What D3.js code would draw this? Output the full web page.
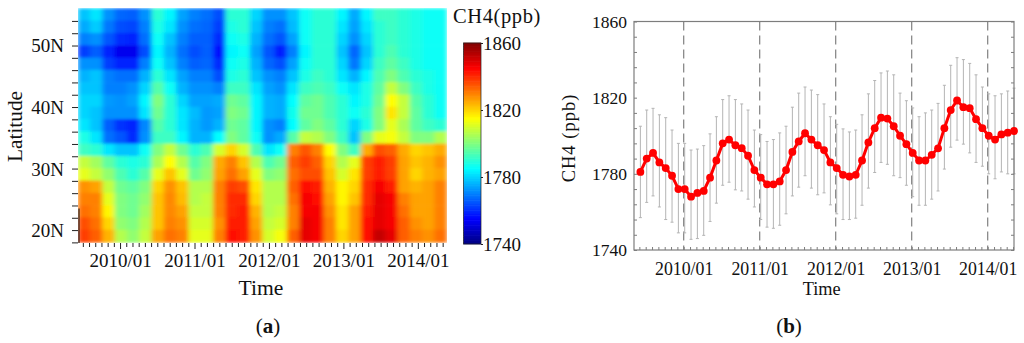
<!DOCTYPE html>
<html><head><meta charset="utf-8">
<script src="https://cdn.jsdelivr.net/npm/d3@7/dist/d3.min.js"></script>
<style>
html,body{margin:0;padding:0;background:#fff}
svg{display:block}
text{font-family:"Liberation Serif",serif;fill:#111}
.axis text{font-family:"Liberation Serif",serif;fill:#111}
</style></head><body>
<svg id="c" width="1024" height="343"></svg>
<script>
const latitudes=[55,53,51,49,47,45,43,41,39,37,35,33,31,29,27,25,23,21,19];
const heat55=[1778,1782,1772,1767,1766,1772,1790,1784,1774,1770,1768,1764,1790,1790,1780,1772,1772,1778,1786,1790,1790,1784,1775,1784,1792,1792,1790,1788,1786,1786];
const heat53=[1775,1779,1769,1764,1763,1770,1788,1782,1772,1768,1767,1762,1788,1790,1778,1770,1768,1777,1786,1790,1790,1782,1774,1782,1790,1792,1790,1788,1786,1786];
const heat51=[1770,1772,1765,1760,1759,1768,1786,1778,1770,1766,1766,1760,1786,1788,1776,1768,1765,1774,1786,1790,1790,1780,1772,1780,1790,1792,1790,1788,1786,1786];
const heat49=[1762,1766,1759,1753,1753,1764,1784,1776,1768,1764,1766,1756,1784,1786,1774,1765,1758,1770,1784,1790,1790,1778,1767,1778,1790,1794,1790,1788,1786,1786];
const heat47=[1772,1772,1762,1759,1759,1770,1786,1778,1770,1766,1767,1760,1786,1788,1776,1767,1764,1774,1786,1790,1790,1780,1769,1780,1792,1796,1792,1788,1786,1786];
const heat45=[1776,1778,1770,1768,1768,1776,1790,1782,1774,1770,1770,1764,1788,1790,1778,1772,1770,1778,1788,1792,1790,1782,1776,1784,1794,1800,1794,1790,1788,1786];
const heat43=[1778,1778,1770,1770,1772,1780,1795,1786,1776,1772,1772,1770,1792,1792,1782,1774,1772,1782,1792,1794,1792,1786,1782,1788,1796,1808,1800,1792,1788,1786];
const heat41=[1780,1780,1773,1772,1774,1784,1800,1790,1780,1774,1774,1775,1798,1796,1784,1776,1775,1785,1796,1798,1794,1790,1784,1788,1798,1815,1808,1795,1790,1786];
const heat39=[1780,1778,1772,1772,1772,1782,1798,1790,1782,1777,1773,1774,1800,1798,1784,1776,1775,1787,1798,1798,1794,1790,1786,1790,1800,1818,1808,1796,1790,1786];
const heat37=[1782,1778,1766,1761,1759,1771,1795,1790,1782,1776,1773,1776,1798,1796,1784,1772,1770,1785,1796,1800,1796,1790,1780,1788,1800,1812,1805,1796,1792,1790];
const heat35=[1788,1782,1768,1765,1760,1772,1792,1792,1784,1776,1776,1785,1800,1796,1786,1772,1775,1795,1808,1806,1800,1792,1778,1800,1812,1814,1808,1800,1800,1806];
const heat33=[1792,1790,1782,1778,1778,1786,1800,1808,1798,1790,1794,1810,1820,1810,1794,1782,1786,1830,1835,1830,1815,1800,1792,1825,1836,1834,1825,1820,1822,1825];
const heat31=[1808,1804,1796,1790,1788,1790,1805,1815,1806,1795,1800,1825,1830,1822,1806,1794,1798,1834,1838,1834,1820,1806,1812,1838,1842,1838,1826,1822,1824,1828];
const heat29=[1812,1808,1802,1794,1790,1795,1812,1822,1812,1798,1802,1826,1832,1826,1812,1800,1802,1832,1836,1836,1822,1810,1818,1838,1842,1838,1826,1820,1824,1826];
const heat27=[1828,1826,1808,1798,1796,1800,1820,1828,1822,1806,1806,1830,1838,1836,1818,1806,1806,1834,1844,1842,1824,1816,1820,1840,1846,1842,1826,1824,1826,1830];
const heat25=[1830,1830,1812,1800,1798,1802,1822,1829,1823,1806,1808,1830,1840,1840,1820,1806,1806,1832,1846,1844,1826,1816,1822,1840,1848,1846,1830,1826,1826,1830];
const heat23=[1832,1830,1816,1800,1798,1804,1822,1829,1826,1808,1808,1830,1840,1842,1824,1806,1808,1830,1846,1846,1828,1818,1826,1842,1848,1846,1832,1826,1826,1830];
const heat21=[1836,1832,1820,1802,1800,1806,1822,1830,1828,1810,1810,1828,1842,1842,1826,1808,1810,1830,1848,1846,1830,1818,1826,1844,1848,1846,1834,1828,1826,1830];
const heat19=[1838,1834,1824,1806,1802,1808,1826,1832,1830,1812,1812,1830,1844,1842,1828,1810,1814,1834,1848,1846,1830,1820,1826,1844,1852,1848,1834,1830,1828,1832];
const heatRows=[heat55,heat53,heat51,heat49,heat47,heat45,heat43,heat41,heat39,heat37,heat35,heat33,heat31,heat29,heat27,heat25,heat23,heat21,heat19];

const ch4Mean=[1781,1788,1791,1786,1783,1779,1772,1772,1768,1770,1771,1778,1787,1796,1798,1795,1793.5,1789.5,1782,1778,1774.5,1774.5,1776,1782,1791.5,1797,1801.3,1798,1795,1792.5,1786,1783,1779.5,1778.6,1779.5,1787,1796.5,1804,1809.5,1809,1805,1800,1795.6,1791,1787,1787,1790,1793.4,1804,1813.5,1818.5,1815,1814.5,1808.7,1804,1800,1798,1800.7,1801.6,1802.5];
const ch4Upper=[1805,1813.5,1814.4,1811,1809.5,1803,1796,1796,1792.5,1793,1794.8,1801,1810,1819,1821,1819,1816.7,1813.5,1803,1800.6,1797,1798,1801.5,1805,1815,1822.4,1825.6,1824,1821.6,1816.7,1810,1806,1803.6,1802,1803,1811,1822,1829,1833,1834,1832,1822.4,1818.4,1814.6,1810,1812,1813.5,1817,1826.5,1837,1841,1840,1838,1832,1825.6,1822,1821,1822,1823.5,1825];
const ch4Lower=[1757,1765,1768.4,1762.6,1756,1754.6,1749,1749,1745.6,1746,1747.7,1755,1764.6,1774,1775.6,1771.6,1771,1766.7,1762.6,1756,1752,1751.4,1753,1759,1768.4,1773,1779,1772.5,1769,1770,1763.7,1759,1756,1756,1756.7,1763.5,1772.5,1780.7,1786,1785,1779,1778,1774,1768,1763.5,1763.5,1766.7,1771,1782.5,1794,1797.7,1795.6,1791,1786,1784,1780,1777.4,1781,1780,1780];

const yearMonths=[7,19,31,43,55];
const yearLabels=["2010/01","2011/01","2012/01","2013/01","2014/01"];
const latTicks=[20,30,40,50];
const barTicks=[1740,1780,1820,1860];
const lineTicks=[1740,1780,1820,1860];
const jetStops=["#000080","#0000ff","#00ffff","#ffff00","#ff0000","#800000"];
const jetDomain=[1740,1755,1785,1815,1845,1860];

const svg=d3.select("#c");
const jet=d3.scaleLinear().domain(jetDomain).range(jetStops).clamp(true);
const defs=svg.append("defs");
const f=defs.append("filter").attr("id","soft").attr("x","0").attr("y","0").attr("width","1").attr("height","1").attr("filterUnits","objectBoundingBox");
f.append("feGaussianBlur").attr("stdDeviation","2.6 1.5").attr("edgeMode","duplicate");
defs.append("clipPath").attr("id","hclip").append("rect").attr("x",78).attr("y",8).attr("width",369).attr("height",235);

/* ---------- panel a ---------- */
const ax=d3.scaleLinear().domain([0.22,59.7]).range([78,447]);
const ay=d3.scaleLinear().domain([17.9,56.1]).range([243,8]);
const colCount=heat55.length;
const heatG=svg.append("g").attr("clip-path","url(#hclip)").append("g").attr("filter","url(#soft)");
heatRows.forEach((row,r)=>{
  heatG.selectAll(null).data(row).enter().append("rect")
    .attr("x",(d,c)=>ax(0.22+c*(59.48/colCount))-0.3)
    .attr("width",ax(59.48/colCount)-ax(0)+0.6)
    .attr("y",ay(latitudes[r]+1)-0.3)
    .attr("height",ay(0)-ay(2)+0.6)
    .attr("fill",d=>jet(d));
});
const allMonths=d3.range(1,60);
const axB=svg.append("g").attr("class","axis").attr("transform","translate(0,243)")
  .call(d3.axisBottom(ax).tickValues(allMonths).tickSize(4).tickSizeOuter(0)
    .tickFormat(m=>{const k=yearMonths.indexOf(m);return k>=0?yearLabels[k]:"";}));
axB.select(".domain").remove();
axB.selectAll("line").attr("stroke","#222").attr("y2",m=>yearMonths.includes(m)?6:4);
axB.selectAll("text").attr("y",11).attr("font-size",19);
const axL=svg.append("g").attr("class","axis").attr("transform","translate(78,0)")
  .call(d3.axisLeft(ay).tickValues(d3.range(18,56,2)).tickSize(6).tickSizeOuter(0)
    .tickFormat(v=>latTicks.includes(v)?v+"N":""));
axL.select(".domain").remove();
axL.selectAll("line").attr("stroke","#222");
axL.selectAll("text").attr("x",-14).attr("font-size",19).attr("dy","0.34em");
svg.append("line").attr("x1",79).attr("x2",79).attr("y1",ay(23.5)).attr("y2",ay(17.9)).attr("stroke","#222").attr("stroke-width",1.2);
svg.append("text").attr("transform","translate(22,126.5) rotate(-90)").attr("text-anchor","middle").attr("font-size",21.3).text("Latitude");
svg.append("text").attr("x",261).attr("y",295).attr("text-anchor","middle").attr("font-size",21.6).text("Time");

/* colour bar */
const barY=d3.scaleLinear().domain([1740,1860]).range([244,43]);
const barVals=d3.range(1740,1860,1);
svg.append("g").selectAll("rect").data(barVals).enter().append("rect")
  .attr("x",463.5).attr("width",17.5).attr("y",d=>barY(d+1)-0.3).attr("height",barY(0)-barY(1)+0.6).attr("fill",d=>jet(d+0.5));
svg.append("rect").attr("x",463.5).attr("y",43).attr("width",17.5).attr("height",201).attr("fill","none").attr("stroke","#222").attr("stroke-width",0.7);
const barAxis=svg.append("g").attr("class","axis").attr("transform","translate(481,0)")
  .call(d3.axisRight(barY).tickValues(barTicks).tickSize(2).tickSizeOuter(0).tickFormat(d3.format("d")));
barAxis.select(".domain").remove();
barAxis.selectAll("line").attr("stroke","#222");
barAxis.selectAll("text").attr("x",2).attr("font-size",19).attr("dy","0.34em");
svg.append("text").attr("x",453).attr("y",23).attr("font-size",20.5).attr("letter-spacing",0.6).text("CH4(ppb)");
svg.append("text").attr("x",268).attr("y",333).attr("text-anchor","middle").attr("font-size",21).html('(<tspan font-weight="bold">a</tspan>)');

/* ---------- panel b ---------- */
const L=634,R=1014,T=21.5,B=250;
const bx=d3.scaleLinear().domain([7,55]).range([683.7,987.7]);
const by=d3.scaleLinear().domain([1740,1860]).range([B,T]);
const ptX=i=>bx(i+0.16);
const gr="#7d7d7d";
svg.append("g").selectAll("line").data(yearMonths).enter().append("line")
  .attr("x1",bx).attr("x2",bx).attr("y1",T).attr("y2",B)
  .attr("stroke","#808080").attr("stroke-width",1.2).attr("stroke-dasharray","9,5");
const eb=svg.append("g").attr("stroke","#b4b4b4").attr("stroke-width",1).attr("fill","none");
eb.selectAll("path").data(ch4Mean).enter().append("path")
  .attr("d",(d,i)=>{const x=ptX(i),u=by(ch4Upper[i]),l=by(ch4Lower[i]);
    return `M${x},${u}V${l}M${x-1.5},${u}H${x+1.5}M${x-1.5},${l}H${x+1.5}`;});
const monthsB=d3.range(0,60);
const bBot=svg.append("g").attr("class","axis").attr("transform",`translate(0,${B})`)
  .call(d3.axisBottom(bx).tickValues(monthsB).tickSizeInner(-3).tickSizeOuter(0)
    .tickFormat(m=>{const k=yearMonths.indexOf(m);return k>=0?yearLabels[k]:"";}));
bBot.select(".domain").remove();
bBot.selectAll("line").attr("stroke",gr);
bBot.selectAll("text").attr("y",9).attr("dy","0.9em").attr("font-size",17.8);
const minor=d3.range(1740,1861,8);
const bLeft=svg.append("g").attr("class","axis").attr("transform",`translate(${L},0)`)
  .call(d3.axisLeft(by).tickValues(minor).tickSizeInner(-3).tickSizeOuter(0)
    .tickFormat(v=>lineTicks.includes(v)?v:""));
bLeft.select(".domain").remove();
bLeft.selectAll("line").attr("stroke",gr);
bLeft.selectAll("text").attr("x",-7).attr("font-size",17.5).attr("dy","0.34em");
const bRight=svg.append("g").attr("transform",`translate(${R},0)`)
  .call(d3.axisRight(by).tickValues(minor).tickSizeInner(-3).tickSizeOuter(0).tickFormat(""));
bRight.select(".domain").remove();
bRight.selectAll("line").attr("stroke",gr);
svg.append("rect").attr("x",L).attr("y",T).attr("width",R-L).attr("height",B-T).attr("fill","none").attr("stroke",gr).attr("stroke-width",1.2);
svg.append("path").datum(ch4Mean).attr("fill","none").attr("stroke","#ff0000").attr("stroke-width",3)
  .attr("d",d3.line().x((d,i)=>ptX(i)).y(d=>by(d)));
svg.append("g").selectAll("circle").data(ch4Mean).enter().append("circle")
  .attr("cx",(d,i)=>ptX(i)).attr("cy",d=>by(d)).attr("r",3.9).attr("fill","#ff0000");
svg.append("text").attr("transform","translate(575,138) rotate(-90)").attr("text-anchor","middle").attr("font-size",18.5).attr("letter-spacing",1).text("CH4 (ppb)");
svg.append("text").attr("x",821.7).attr("y",295).attr("text-anchor","middle").attr("font-size",18.3).text("Time");
svg.append("text").attr("x",789).attr("y",333).attr("text-anchor","middle").attr("font-size",21).html('(<tspan font-weight="bold">b</tspan>)');
</script>
</body></html>
